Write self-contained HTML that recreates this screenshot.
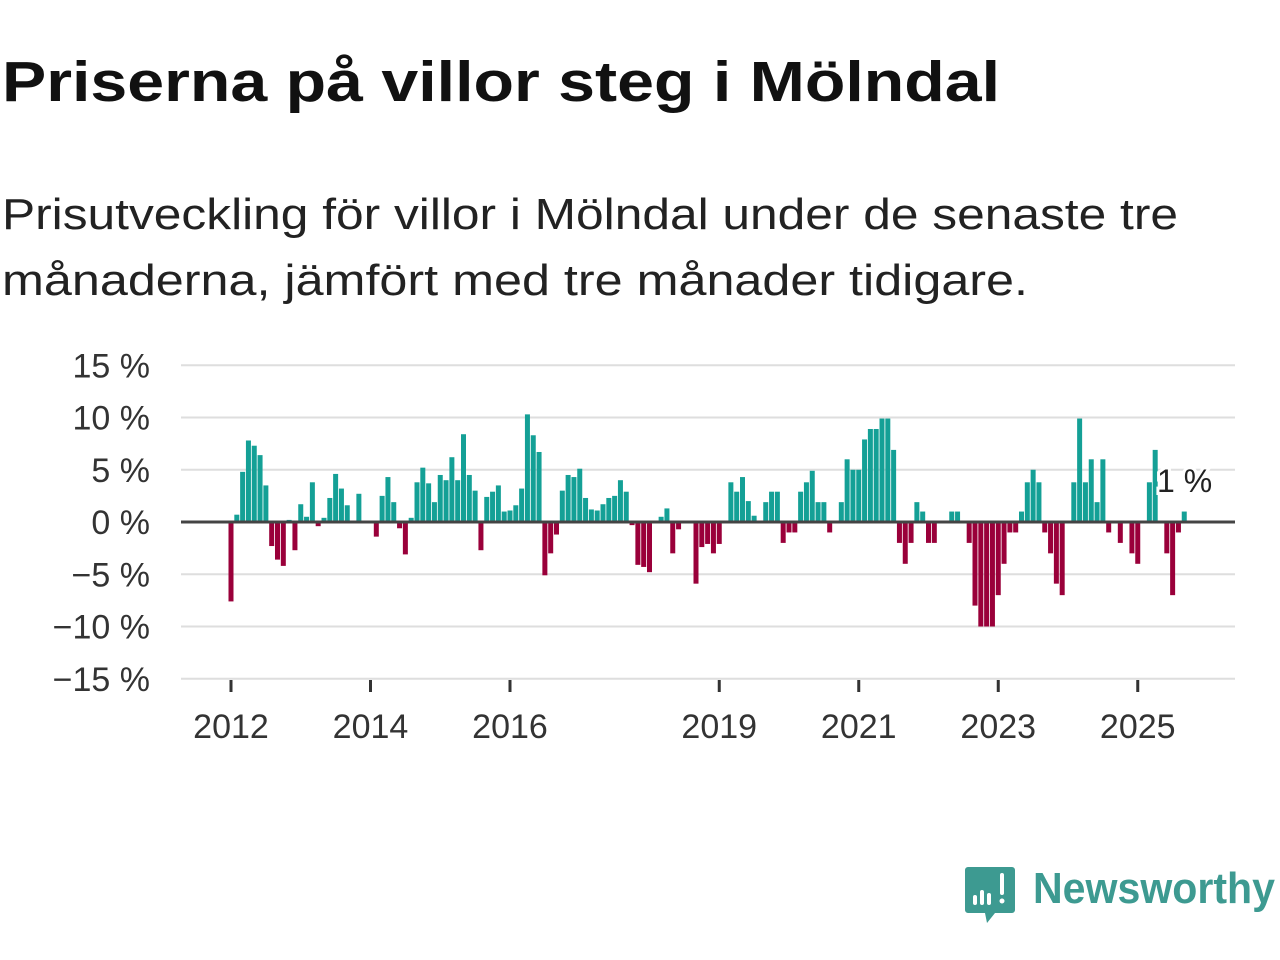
<!DOCTYPE html>
<html><head><meta charset="utf-8"><style>
html,body{margin:0;padding:0;background:#fff}
svg{display:block;font-family:"Liberation Sans",sans-serif}
</style></head><body>
<svg id="chart" width="1280" height="960" viewBox="0 0 1280 960">
<text x="2" y="101" font-size="57" font-weight="bold" fill="#111" textLength="998" lengthAdjust="spacingAndGlyphs">Priserna på villor steg i Mölndal</text>
<text x="2" y="229" font-size="44" fill="#222" textLength="1176" lengthAdjust="spacingAndGlyphs">Prisutveckling för villor i Mölndal under de senaste tre</text>
<text x="2" y="295" font-size="44" fill="#222" textLength="1026" lengthAdjust="spacingAndGlyphs">månaderna, jämfört med tre månader tidigare.</text>
<g id="grid"></g>
<g id="bars"></g>
<g id="axes"></g>
<g>
<path d="M968 867 h44 a3 3 0 0 1 3 3 v40 a3 3 0 0 1 -3 3 h-17 l-8 10 l-2 -10 h-17 a3 3 0 0 1 -3 -3 v-40 a3 3 0 0 1 3 -3z" fill="#3d9a91"/>
<rect x="973" y="895" width="4" height="10" rx="2" fill="#fff"/>
<rect x="980" y="890" width="4" height="15" rx="2" fill="#fff"/>
<rect x="987" y="893" width="4" height="12" rx="2" fill="#fff"/>
<rect x="1000" y="873" width="4" height="22" rx="2" fill="#fff"/>
<circle cx="1002" cy="901" r="2.5" fill="#fff"/>
<text x="1033" y="903" font-size="44" font-weight="600" fill="#3d9a91" textLength="242" lengthAdjust="spacingAndGlyphs">Newsworthy</text>
</g>
</svg>
<script>
const values = [-7.6,0.7,4.8,7.8,7.3,6.4,3.5,-2.3,-3.6,-4.2,0.2,-2.7,1.7,0.5,3.8,-0.4,0.4,2.3,4.6,3.2,1.6,0,2.7,0,0,-1.4,2.5,4.3,1.9,-0.6,-3.1,0.4,3.8,5.2,3.7,1.9,4.5,4.0,6.2,4.0,8.4,4.5,3.0,-2.7,2.4,2.9,3.5,1.0,1.1,1.6,3.2,10.3,8.3,6.7,-5.1,-3.0,-1.2,3.0,4.5,4.3,5.1,2.3,1.2,1.1,1.7,2.3,2.5,4.0,2.9,-0.3,-4.1,-4.3,-4.8,0,0.5,1.3,-3.0,-0.7,0,0,-5.9,-2.4,-2.1,-3.0,-2.1,0,3.8,2.9,4.3,2.0,0.6,0,1.9,2.9,2.9,-2.0,-1.0,-1.0,2.9,3.8,4.9,1.9,1.9,-1.0,0,1.9,6.0,5.0,5.0,7.9,8.9,8.9,9.9,9.9,6.9,-2,-4,-2,1.9,1.0,-2,-2,0,0,1,1,0,-2,-8,-10,-10,-10,-7,-4,-1,-1,1,3.8,5,3.8,-1,-3,-5.9,-7,0,3.8,9.9,3.8,6,1.9,6,-1,0,-2,0,-3,-4,0,3.8,6.9,0,-3,-7,-1,1];
const startYear = 2012;
const yTicks = [15,10,5,0,-5,-10,-15];
const yTickLabels = ["15 %","10 %","5 %","0 %","\u22125 %","\u221210 %","\u221215 %"];
const xTickYears = [2012,2014,2016,2019,2021,2023,2025];
const lastLabel = "1 %";

const NS="http://www.w3.org/2000/svg";
const y0=522, pxPer=10.45, x0=231, pxMonth=69.75/12;
function yS(v){return y0 - v*pxPer;}
function xS(i){return x0 + i*pxMonth;}
function xYear(y){return x0 + (y-startYear)*12*pxMonth;}
function mk(tag,attrs,parent){const e=document.createElementNS(NS,tag);for(const k in attrs)e.setAttribute(k,attrs[k]);parent.appendChild(e);return e;}
const grid=document.getElementById('grid'), bars=document.getElementById('bars'), axes=document.getElementById('axes');
yTicks.forEach((t,k)=>{
  const l=mk('line',{x1:181,x2:1235,y1:yS(t),y2:yS(t),stroke:'#dedede','stroke-width':2},grid);
  
  
  const tx=mk('text',{x:150,y:yS(t)+12,'text-anchor':'end','font-size':34,fill:'#333'},axes);
  tx.textContent=yTickLabels[k];
  
  
});
values.forEach((v,i)=>{
  if(v===0)return;
  const r=mk('rect',{x:xS(i)-2.5,width:5,y:Math.min(yS(v),y0),height:Math.abs(v)*pxPer,fill:v>0?'#14a096':'#9a003a'},bars);
  
  
});
const z=mk('line',{x1:181,x2:1235,y1:y0,y2:y0,stroke:'#444','stroke-width':3},axes);


xTickYears.forEach(yr=>{
  const x=xYear(yr);
  const t=mk('line',{x1:x,x2:x,y1:680,y2:692,stroke:'#333','stroke-width':3},axes);
  
  
  const tx=mk('text',{x:x,y:738,'text-anchor':'middle','font-size':34,fill:'#333'},axes);
  tx.textContent=yr;
  
  
});
const lab=mk('text',{x:1157,y:492,'font-size':32,fill:'#222',stroke:'#fff','stroke-width':6,'paint-order':'stroke'},axes);
lab.textContent=lastLabel;


</script>
</body></html>
